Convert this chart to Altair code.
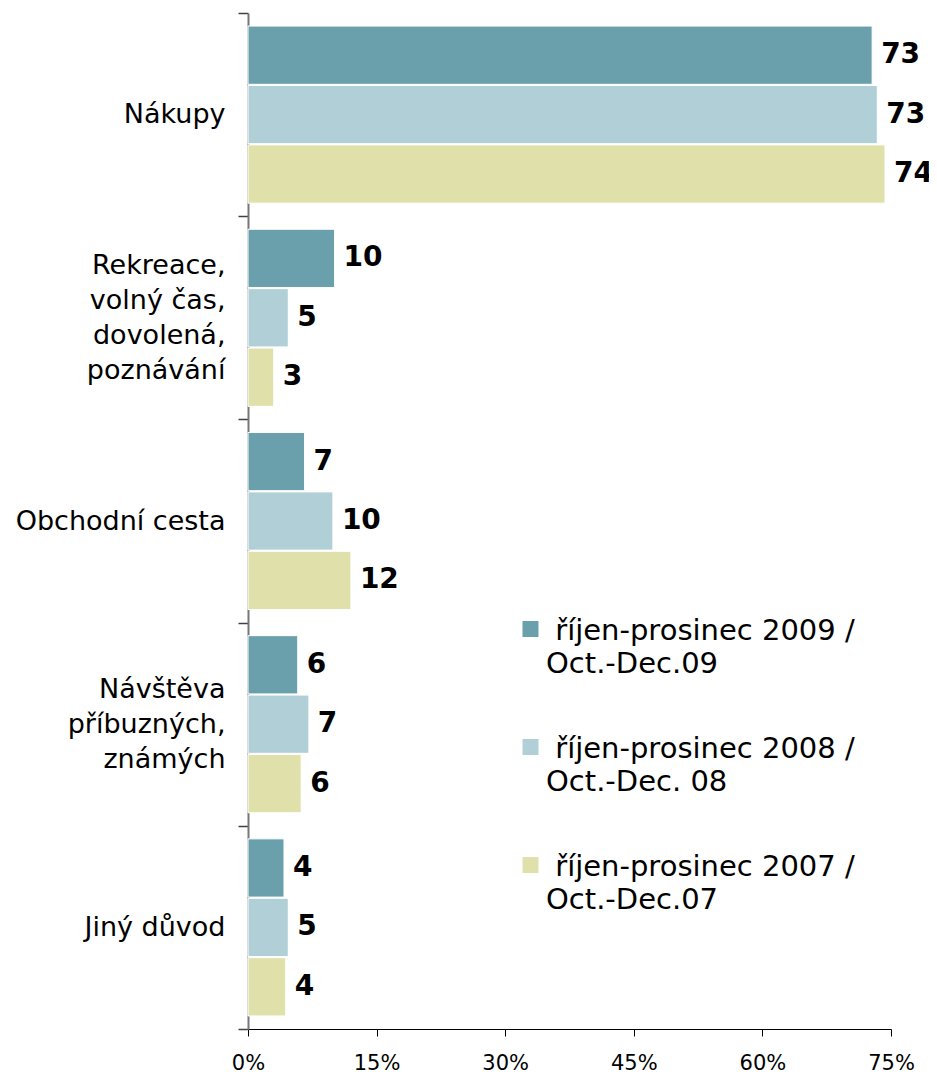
import altair as alt
import pandas as pd

categories = ["Nákupy", "Rekreace,|volný čas,|dovolená,|poznávání", "Obchodní cesta",
              "Návštěva|příbuzných,|známých", "Jiný důvod"]
series = ["\u200b\u00a0říjen-prosinec 2009 /|Oct.-Dec.09",
          "\u200b\u00a0říjen-prosinec 2008 /|Oct.-Dec. 08",
          "\u200b\u00a0říjen-prosinec 2007 /|Oct.-Dec.07"]
values_2009 = [72.8, 10.1, 6.6, 5.8, 4.2]
values_2008 = [73.4, 4.7, 9.9, 7.1, 4.7]
values_2007 = [74.3, 3.0, 12.0, 6.2, 4.4]
colors = ["#6A9FAC", "#B1CFD6", "#E0E0AA"]
x_ticks = [0, 15, 30, 45, 60, 75]

rows = []
for s, vals in zip(series, [values_2009, values_2008, values_2007]):
    for c, v in zip(categories, vals):
        rows.append({"category": c, "series": s, "value": v})
df = pd.DataFrame(rows)

font = "DejaVu Sans"
line_h = 35

y_enc = alt.Y(
    "category:N", sort=categories,
    scale=alt.Scale(paddingInner=0, paddingOuter=0),
    axis=alt.Axis(title=None, labelExpr="split(datum.label, '|')", labelFont=font,
                  labelFontSize=27, labelLineHeight=line_h, labelColor="#000", labelLimit=400,
                  labelOffset=alt.ExprRef(
                      expr=f"-{line_h / 2}*(length(split(datum.label, '|')) - 1)"),
                  labelPadding=13, tickBand="extent", tickSize=10, tickColor="#404040",
                  tickWidth=1.5, domainColor="#777777", domainWidth=2),
)
yoff = alt.YOffset("series:N", sort=series,
                   scale=alt.Scale(paddingInner=0.02, paddingOuter=0.22))
x_enc = alt.X(
    "value:Q", scale=alt.Scale(domain=[0, 75], nice=False),
    axis=alt.Axis(title=None, values=x_ticks, labelExpr="datum.value + '%'", grid=False,
                  tickSize=7, tickColor="#000", domainColor="#000", labelFont=font,
                  labelFontSize=21, labelPadding=16, labelColor="#000", labelFlush=False),
)
color = alt.Color(
    "series:N", sort=series,
    scale=alt.Scale(domain=series, range=colors),
    legend=alt.Legend(title=None, orient="none", legendX=268, legendY=589,
                      symbolType="M-1,0.56L1,0.56L1,2.56L-1,2.56Z", symbolSize=256,
                      symbolStrokeWidth=0, symbolOpacity=1, labelFont=font, labelFontSize=29,
                      labelBaseline="top", labelOffset=1, labelLimit=500,
                      labelExpr="split(datum.label, '|')", rowPadding=41, padding=0,
                      labelColor="#000"),
)

bars = alt.Chart(df).mark_bar(stroke="white", strokeWidth=1, opacity=1).encode(
    x=x_enc, y=y_enc, yOffset=yoff, color=color
)
text = alt.Chart(df).mark_text(
    align="left", baseline="middle", dx=9, font=font, fontSize=28,
    fontWeight="bold", color="black"
).encode(x=x_enc, y=y_enc, yOffset=yoff, text=alt.Text("value:Q", format=".0f"))

chart = alt.layer(bars, text).properties(
    width=643, height=1016, background="white",
    autosize=alt.AutoSizeParams(type="none"),
    padding={"left": 240, "top": 5, "right": 38, "bottom": 51},
).configure(style={"guide-label": {"lineHeight": 33}}).configure_view(stroke=None)

chart.save("out.html", embed_options={"renderer": "svg", "actions": False})
